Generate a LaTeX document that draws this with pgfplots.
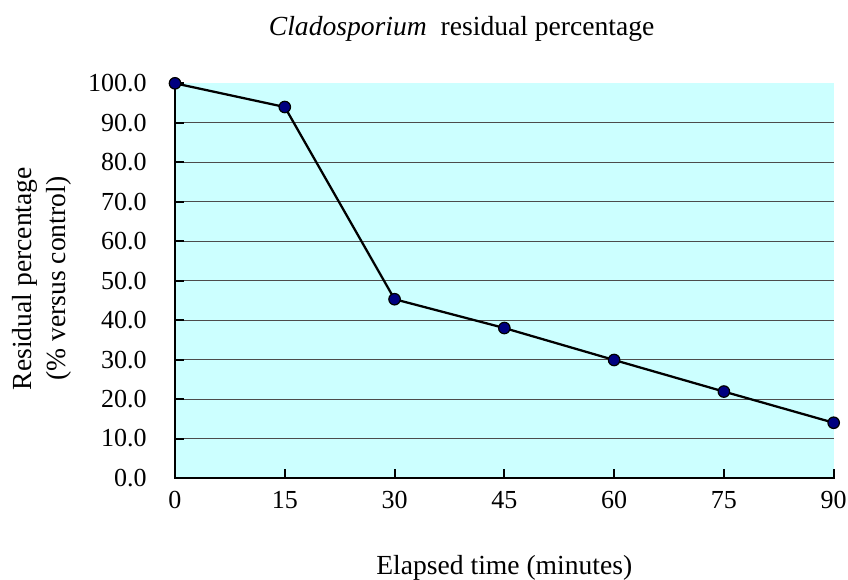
\documentclass[border=0pt]{standalone}
\usepackage{fontspec}
\setmainfont{Liberation Serif}
\usepackage{pgfplots}
\pgfplotsset{compat=1.18}
\definecolor{plotbg}{RGB}{204,255,255}
\definecolor{marknavy}{RGB}{0,0,128}
\begin{document}
\begin{tikzpicture}
\begin{axis}[
    at={(0,0)}, anchor=origin,
    scale only axis,
    width=494pt, height=296pt,
    xmin=0, xmax=90, ymin=0, ymax=100,
    axis lines*=left,
    axis line style={draw=none},
    axis background/.style={fill=plotbg},
    xtick={0,15,...,90},
    ytick={0,10,...,90},
    extra y ticks={100},
    extra y tick style={grid=none},
    ymajorgrids,
    grid style={black!70, line width=0.7pt},
    major tick length=0pt,
    /pgf/number format/assume math mode=true,
    ticklabel style={font=\fontsize{19.5pt}{23pt}\selectfont},
    yticklabel={\pgfmathprintnumber[fixed, fixed zerofill, precision=1]{\tick}},
    yticklabel style={anchor=east, inner sep=0pt, xshift=-21pt},
    xticklabel style={anchor=center, yshift=-16.5pt},
    clip=false,
    title={\textit{Cladosporium}\ \ residual percentage},
    title style={at={(0.5,1)}, anchor=center, xshift=-32pt, yshift=34.5pt,
        font=\fontsize{20.7pt}{25pt}\selectfont},
    xlabel={Elapsed time (minutes)},
    xlabel style={at={(axis description cs:0.5,0)}, anchor=center, yshift=-67.5pt,
        font=\fontsize{20.7pt}{25pt}\selectfont},
    ylabel={Residual percentage\\(\% versus control)},
    ylabel style={at={(axis description cs:0,0.5)}, anchor=center, align=center,
        xshift=1.5pt, yshift=99.75pt, font=\fontsize{20.7pt}{26pt}\selectfont},
]
% axis lines and inward ticks
\draw[black, line width=1.5pt, line cap=rect] (rel axis cs:0,1) -- (rel axis cs:0,0) -- (rel axis cs:1,0);
\pgfplotsinvokeforeach{15,30,45,60,75,90}{
    \draw[black, line width=1.5pt] (axis cs:#1,0) -- ++(0pt,6.5pt);
}
\pgfplotsinvokeforeach{10,20,30,40,50,60,70,80,90,100}{
    \draw[black, line width=1.5pt] (axis cs:0,#1) -- ++(6.5pt,0pt);
}
\addplot[black, line width=1.7pt, mark=*, mark size=4.3pt,
    mark options={fill=marknavy, draw=black, line width=0.9pt}] coordinates {
    (0,100.0) (15,94.0) (30,45.3) (45,38.0) (60,29.9) (75,21.9) (90,14.0)
};
\end{axis}
\pgfresetboundingbox
\path (-131.25pt,-76.5pt) rectangle (504.75pt,358.5pt);
\end{tikzpicture}
\end{document}
